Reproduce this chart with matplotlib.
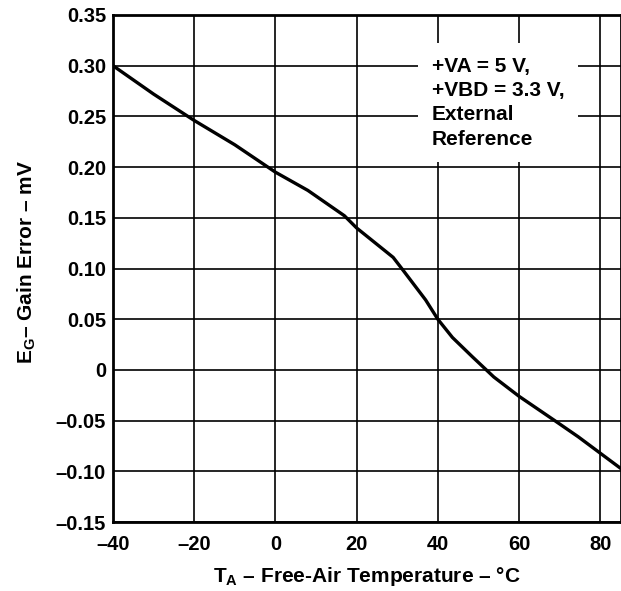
import matplotlib
matplotlib.use("Agg")
import matplotlib.pyplot as plt
import numpy as np

# Data
temperature_c = [-40, -30, -20, -10, 0, 8, 17, 20, 29, 31.5, 37, 40, 43.6, 48.5, 53.8, 60, 68.8, 74.6, 85]
gain_error_mv = [0.300, 0.272, 0.246, 0.222, 0.195, 0.177, 0.152, 0.140, 0.111, 0.098, 0.069, 0.050,
                 0.032, 0.013, -0.007, -0.026, -0.050, -0.066, -0.097]

x_ticks = [-40, -20, 0, 20, 40, 60, 80]
x_ticklabels = ["–40", "–20", "0", "20", "40", "60", "80"]
x_grid = [-20, 0, 20, 40, 60, 80]
y_ticks = [0.35, 0.30, 0.25, 0.20, 0.15, 0.10, 0.05, 0, -0.05, -0.10, -0.15]
y_ticklabels = ["0.35", "0.30", "0.25", "0.20", "0.15", "0.10", "0.05", "0", "–0.05", "–0.10", "–0.15"]
note_lines = ["+VA = 5 V,", "+VBD = 3.3 V,", "External", "Reference"]

plt.rcParams['font.family'] = ['Liberation Sans', 'DejaVu Sans']
plt.rcParams['mathtext.fontset'] = 'custom'
plt.rcParams['mathtext.rm'] = 'Liberation Sans:bold'
plt.rcParams['mathtext.bf'] = 'Liberation Sans:bold'

fig = plt.figure(figsize=(6.21, 5.91), dpi=100)
ax = fig.add_axes([113/621, 1-522/591, 507.5/621, 507/591])

ax.set_xlim(-40, 85)
ax.set_ylim(-0.15, 0.35)

for xv in x_grid:
    ax.axvline(xv, color='black', lw=1.2, zorder=1)
for yv in y_ticks:
    ax.axhline(yv, color='black', lw=1.2, zorder=1)

ax.plot(temperature_c, gain_error_mv, color='black', lw=2.4, zorder=3, solid_joinstyle='round')

ax.set_xticks(x_ticks)
ax.set_xticklabels(x_ticklabels, fontsize=14.5, fontweight='bold')
ax.set_yticks(y_ticks)
ax.set_yticklabels(y_ticklabels, fontsize=14.5, fontweight='bold')
ax.tick_params(axis='x', length=0, pad=9)
ax.tick_params(axis='y', length=0, pad=5)

for s in ax.spines.values():
    s.set_linewidth(2.0)
    s.set_color('black')

ax.text(0.6286, 0.918, "\n".join(note_lines), transform=ax.transAxes, ha='left', va='top',
        fontsize=15, fontweight='bold', linespacing=1.36, zorder=4,
        bbox=dict(boxstyle='square,pad=0.65', facecolor='white', edgecolor='none'))

fig.text(367/621, 1-577/591, r"T$_{\mathbf{A}}$ – Free-Air Temperature – °C", ha='center', va='center',
         fontsize=15, fontweight='bold')
fig.text(27/621, 1-262/591, r"E$_{\mathbf{G}}$– Gain Error – mV", ha='center', va='center',
         fontsize=15, fontweight='bold', rotation=90)

fig.savefig("out.png", dpi=100)
